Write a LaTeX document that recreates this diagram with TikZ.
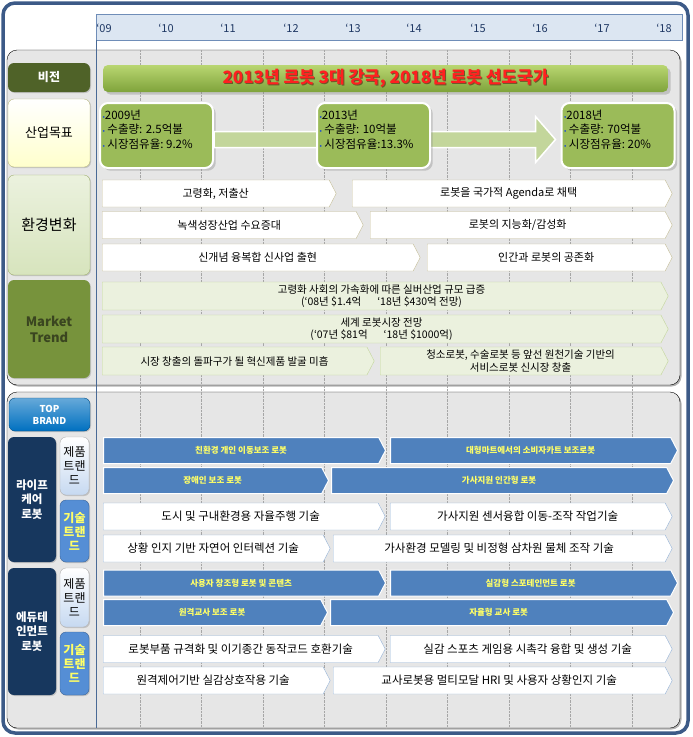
\documentclass[tikz,border=0pt]{standalone}
\usepackage{fontspec}
\setmainfont{Noto Sans CJK KR}
\usetikzlibrary{shapes.symbols,shadows,calc}

\definecolor{frameblue}{HTML}{3C5A87}
\definecolor{bandblue}{HTML}{DCE6F2}
\definecolor{bandedge}{HTML}{6F8DB8}
\definecolor{yeartext}{HTML}{1F3864}
\definecolor{panelgray}{HTML}{E6E6E6}
\definecolor{gridgray}{HTML}{A6A6A6}
\definecolor{sepblue}{HTML}{4A6A96}
\definecolor{visiongreen}{HTML}{4F6228}
\definecolor{bannertop}{HTML}{B9D671}
\definecolor{bannerbot}{HTML}{7FA33B}
\definecolor{titlered}{HTML}{FF2020}
\definecolor{titleshade}{HTML}{6B5A2A}
\definecolor{goalgreen}{HTML}{9BBB59}
\definecolor{arrowgreen}{HTML}{C3D69B}
\definecolor{goalyellow}{HTML}{FFFFCC}
\definecolor{goaledge}{HTML}{B8B880}
\definecolor{envgreen}{HTML}{D7E4BD}
\definecolor{envlabedge}{HTML}{A0B070}
\definecolor{envedge}{HTML}{C4BD97}
\definecolor{trendolive}{HTML}{77933C}
\definecolor{trendtext}{HTML}{3A4520}
\definecolor{trendfill}{HTML}{EBF1DE}
\definecolor{trendedge}{HTML}{C3D69B}
\definecolor{brandblue}{HTML}{0070C0}
\definecolor{navy}{HTML}{17375E}
\definecolor{prodblue}{HTML}{4F81BD}
\definecolor{techblue}{HTML}{558ED5}
\definecolor{techedge}{HTML}{95B3D7}
\definecolor{paleblue}{HTML}{C6D9F1}
\definecolor{yellowtext}{HTML}{FFFF66}
\definecolor{bulletblue}{HTML}{1F4FD0}

\newcommand{\gbul}{\textcolor{bulletblue}{\scriptsize•}}
\newcommand{\goaltext}[3]{\parbox[c][52pt][t]{108pt}{\gbul#1년\\\gbul\ 수출량: #2억불\\\gbul\ 시장점유율:#3\%}}
\newcommand{\sdtext}[1]{\rlap{\hspace{1pt}\raisebox{-1pt}{\textcolor{titleshade}{#1}}}#1}

\begin{document}
\begin{tikzpicture}[x=1pt,y=-1pt,
  year/.style={text=yeartext, font=\fontsize{11}{13}\selectfont},
  panel/.style={draw=black, fill=panelgray, rounded corners=10pt,
    drop shadow={shadow xshift=1.5pt, shadow yshift=-1.5pt, opacity=.6, fill=gray}},
  gridline/.style={gridgray, densely dotted},
  lab/.style={rounded corners=6pt, align=center, inner sep=0pt,
    drop shadow={shadow xshift=1pt, shadow yshift=-1pt, opacity=.35}},
  banner/.style={rounded corners=5pt, top color=bannertop, bottom color=bannerbot,
    minimum width=565pt, minimum height=27pt, text=titlered,
    font=\fontsize{17}{20}\selectfont\bfseries, drop shadow={opacity=.35}},
  goalbox/.style={fill=goalgreen, draw=white, line width=2pt, rounded corners=8pt,
    minimum width=113pt, minimum height=65pt, inner sep=1pt,
    font=\fontsize{11.5}{14.5}\selectfont, drop shadow={opacity=.35}},
  goalarrow/.style={fill=arrowgreen, draw=white, line width=1.5pt},
  chev/.style={signal, signal to=east, signal pointer angle=125, inner sep=0pt,
    anchor=west, align=center},
  envbox/.style={chev, fill=white, draw=envedge, minimum height=27pt,
    font=\fontsize{11}{13}\selectfont},
  trendbox/.style={chev, fill=trendfill, draw=trendedge, minimum height=28pt,
    font=\fontsize{10.5}{12.5}\selectfont},
  prodbox/.style={chev, fill=prodblue, draw=white, line width=1pt, minimum height=26pt,
    text=yellowtext, font=\fontsize{8.5}{10}\selectfont\bfseries},
  techbox/.style={chev, fill=white, draw=techedge, minimum height=27pt,
    font=\fontsize{11.5}{13}\selectfont},
]
\useasboundingbox (0,0) rectangle (693,737);

\draw[frameblue, line width=3.5pt, fill=white, rounded corners=12pt] (3,3) rectangle (688,733);
\draw[bandedge, fill=bandblue] (96,14) rectangle (682,40);
\foreach \x/\yr in {104/09,166/10,228/11,291/12,353/13,414/14,478/15,540/16,602/17,664/18}
  \node[year] (yr\yr) at (\x,28) {‘\yr};

\draw[panel] (7,50) rectangle (680,385);
\draw[panel] (7,392) rectangle (680,728);
\foreach \x in {140,201.5,...,633}
  \draw[gridline] (\x,50) -- (\x,728);
\draw[sepblue, line width=.8pt] (96,40) -- (96,728);

\node[lab, fill=visiongreen, text=white, minimum width=82pt, minimum height=29pt,
  font=\fontsize{12}{14}\selectfont\bfseries] (vision) at (49,77.5) {비전};
\node[lab, top color=white, bottom color=goalyellow, draw=goaledge, minimum width=82pt,
  minimum height=68pt, font=\fontsize{13}{15}\selectfont] (goal) at (49,133) {산업목표};
\node[lab, top color=envgreen!50, bottom color=envgreen, draw=envlabedge, minimum width=82pt,
  minimum height=100pt, font=\fontsize{15}{17}\selectfont] (env) at (49,225) {환경변화};
\node[lab, fill=trendolive, text=trendtext, minimum width=82pt, minimum height=98pt,
  font=\fontsize{13}{16}\selectfont\bfseries] (trend) at (49,329) {Market\\Trend};

\node[banner] (visionbar) at (385.5,78.5) {\sdtext{2013년 로봇 3대 강국, 2018년 로봇 선도국가}};

\node[goalbox] (g09) at (156.5,135.5) {\goaltext{2009}{2.5}{\ 9.2}};
\node[goalbox] (g18) at (618,135.5) {\goaltext{2018}{70}{\ 20}};
\draw[goalarrow] ($(g09.east)+(0,-4)$) -- ($(g18.west)+(-25,-4)$) -- ($(g18.west)+(-25,-19)$)
  -- ($(g18.west)+(-5,4)$) -- ($(g18.west)+(-25,27)$) -- ($(g18.west)+(-25,12)$)
  -- ($(g09.east)+(0,12)$) -- cycle;
\node[goalbox] (g13) at (373.5,135.5) {\goaltext{2013}{10}{13.3}};

\foreach \n/\xa/\xb/\yc/\t in {e1/102/336/193.5/{고령화, 저출산},
    e2/352/672/193.5/{로봇을 국가적 Agenda로 채택},
    e3/102/363/225/{녹색성장산업 수요증대}, e4/370/672/225/{로봇의 지능화/감성화},
    e5/102/420/257.5/{신개념 융복합 신사업 출현}, e6/427/672/257.5/{인간과 로봇의 공존화}}
  \node[envbox, minimum width={(\xb-\xa)*1pt}] (\n) at (\xa,\yc) {\t};

\foreach \n/\xa/\xb/\yc/\t in {m1/102/668/296/{고령화 사회의 가속화에 따른 실버산업 규모 급증\\(‘08년 \$1.4억\hspace{16pt}‘18년 \$430억 전망)},
    m2/102/668/329/{세계 로봇시장 전망\\(‘07년 \$81억\hspace{16pt}‘18년 \$1000억)},
    m3/102/374/361/{시장 창출의 돌파구가 될 혁신제품 발굴 미흡},
    m4/380/668/361/{청소로봇, 수술로봇 등 앞선 원천기술 기반의\\서비스로봇 신시장 창출}}
  \node[trendbox, minimum width={(\xb-\xa)*1pt}] (\n) at (\xa,\yc) {\t};

\node[lab, top color=brandblue!60, bottom color=brandblue, draw=brandblue!70!black,
  text=white, minimum width=81pt, minimum height=33pt,
  font=\fontsize{9.5}{12}\selectfont\bfseries] (brand) at (49.5,414.5) {TOP\\BRAND};
\node[lab, fill=navy, text=white, minimum width=48pt, minimum height=125pt,
  font=\fontsize{11.5}{14.5}\selectfont\bfseries] (life) at (32,499.5) {라이프\\케어\\로봇};
\node[lab, top color=white, bottom color=paleblue, draw=gray!60, minimum width=29pt,
  minimum height=58pt, font=\fontsize{12}{14}\selectfont] (lprod) at (74.5,466) {제품\\트랜\\드};
\node[lab, fill=techblue, draw=techblue!70!black, text=yellowtext, minimum width=29pt,
  minimum height=62pt, font=\fontsize{12}{14}\selectfont\bfseries] (ltech) at (74.5,531) {기술\\트랜\\드};
\node[lab, fill=navy, text=white, minimum width=48pt, minimum height=127pt,
  font=\fontsize{11.5}{14.5}\selectfont\bfseries] (edu) at (32,631.5) {에듀테\\인먼트\\로봇};
\node[lab, top color=white, bottom color=paleblue, draw=gray!60, minimum width=29pt,
  minimum height=59pt, font=\fontsize{12}{14}\selectfont] (eprod) at (74.5,597.5) {제품\\트랜\\드};
\node[lab, fill=techblue, draw=techblue!70!black, text=yellowtext, minimum width=29pt,
  minimum height=63pt, font=\fontsize{12}{14}\selectfont\bfseries] (etech) at (74.5,663.5) {기술\\트랜\\드};

\foreach \n/\xa/\xb/\yc/\t in {p1/103/385/450.5/{친환경 개인 이동보조 로봇},
    p2/390/677/450.5/{대형마트에서의 소비자카트 보조로봇},
    p3/103/328/480.5/{장애인 보조 로봇}, p4/331/673/480.5/{가사지원 인간형 로봇},
    p5/103/385/583/{사용자 창조형 로봇 및 콘텐츠}, p6/390/677/583/{실감형 스포테인먼트 로봇},
    p7/103/327/612.5/{원격교사 보조 로봇}, p8/330/673/612.5/{자율형 교사 로봇}}
  \node[prodbox, minimum width={(\xb-\xa)*1pt}] (\n) at (\xa,\yc) {\t};

\foreach \n/\xa/\xb/\yc/\t in {t1/103/385/516.5/{도시 및 구내환경용 자율주행 기술},
    t2/390/672/516.5/{가사지원 센서융합 이동-조작 작업기술},
    t3/103/330/548.5/{상황 인지 기반 자연어 인터렉션 기술},
    t4/333/672/548.5/{가사환경 모델링 및 비정형 삼차원 물체 조작 기술},
    t5/103/385/649/{로봇부품 규격화 및 이기종간 동작코드 호환기술},
    t6/390/672/649/{실감 스포츠 게임용 시촉각 융합 및 생성 기술},
    t7/103/330/680.5/{원격제어기반 실감상호작용 기술},
    t8/333/672/680.5/{교사로봇용 멀티모달 HRI 및 사용자 상황인지 기술}}
  \node[techbox, minimum width={(\xb-\xa)*1pt}] (\n) at (\xa,\yc) {\t};
\end{tikzpicture}
\end{document}
